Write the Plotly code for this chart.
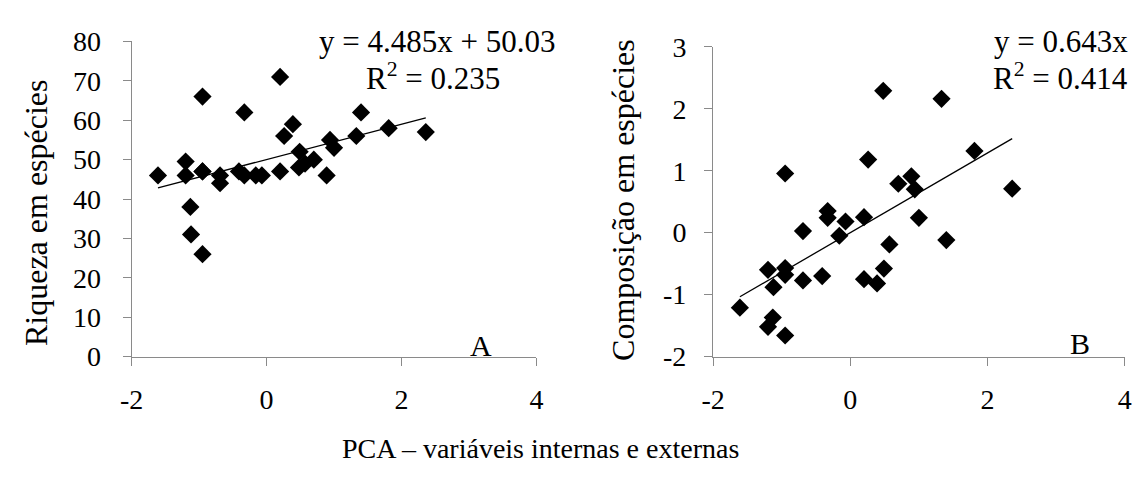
import plotly.graph_objects as go

# PCA scores (shared x for both panels)
pca = [-1.61, -1.20, -1.20, -1.13, -1.12, -0.95, -0.95, -0.95, -0.95, -0.69, -0.69,
       -0.41, -0.33, -0.33, -0.16, -0.07, 0.20, 0.20, 0.26, 0.39, 0.48, 0.49, 0.57,
       0.70, 0.89, 0.94, 1.00, 1.33, 1.40, 1.81, 2.36]

# Panel A: species richness
riqueza = [46, 49.5, 46, 38, 31, 66, 47, 47, 26, 46, 44,
           47, 62, 46, 46, 46, 71, 47, 56, 59, 48, 52, 49,
           50, 46, 55, 53, 56, 62, 58, 57]

# Panel B: species composition
composicao = [-1.21, -0.60, -1.52, -1.37, -0.88, 0.955, -0.57, -0.68, -1.66, 0.025, -0.77,
              -0.70, 0.35, 0.24, -0.05, 0.18, 0.25, -0.75, 1.18, -0.82, 2.29, -0.58, -0.19,
              0.79, 0.91, 0.70, 0.24, 2.16, -0.12, 1.32, 0.71]

slope_a, intercept_a = 4.485, 50.03
slope_b = 0.643

x_ticks = [-2, 0, 2, 4]
ya_ticks = [0, 10, 20, 30, 40, 50, 60, 70, 80]
yb_ticks = [-2, -1, 0, 1, 2, 3]

W, H = 1141, 483
FONT = "Liberation Serif"

def px(xp):
    return xp / W

def py(yp):
    return 1 - yp / H

fig = go.Figure()

marker = dict(symbol="diamond", size=14, color="black")
xl = [min(pca), max(pca)]

fig.add_trace(go.Scatter(x=pca, y=riqueza, mode="markers", marker=marker,
                         xaxis="x", yaxis="y", hoverinfo="skip"))
fig.add_trace(go.Scatter(x=xl, y=[slope_a * v + intercept_a for v in xl], mode="lines",
                         line=dict(color="black", width=1.3), xaxis="x", yaxis="y",
                         hoverinfo="skip"))
fig.add_trace(go.Scatter(x=pca, y=composicao, mode="markers", marker=marker,
                         xaxis="x2", yaxis="y2", hoverinfo="skip"))
fig.add_trace(go.Scatter(x=xl, y=[slope_b * v for v in xl], mode="lines",
                         line=dict(color="black", width=1.3), xaxis="x2", yaxis="y2",
                         hoverinfo="skip"))

axc = dict(showline=True, linecolor="#8a8a8a", linewidth=1.3, ticks="outside", ticklen=8,
           tickcolor="#8a8a8a", tickwidth=1.3, showgrid=False, zeroline=False,
           tickfont=dict(family=FONT, size=28, color="black"), fixedrange=True)

def tt(vals):
    return [str(v) for v in vals]

fig.update_layout(
    width=W, height=H,
    margin=dict(l=0, r=0, t=0, b=0),
    paper_bgcolor="white", plot_bgcolor="white",
    font=dict(family=FONT, color="black", size=28),
    showlegend=False,
    xaxis=dict(axc, domain=[px(121.7), px(533.3)], range=[-2, 4], tickvals=x_ticks,
               ticktext=tt(x_ticks), anchor="y", ticklabelstandoff=10),
    yaxis=dict(axc, domain=[py(365), py(28.3)], range=[0, 80], tickvals=ya_ticks,
               ticktext=tt(ya_ticks), anchor="x", ticklabelstandoff=16),
    xaxis2=dict(axc, domain=[px(713), px(1131.5)], range=[-2, 4], tickvals=x_ticks,
                ticktext=tt(x_ticks), anchor="y2", ticklabelstandoff=10),
    yaxis2=dict(axc, domain=[py(365), py(34)], range=[-2, 3], tickvals=yb_ticks,
                ticktext=tt(yb_ticks), anchor="x2", ticklabelstandoff=12),
)

ann = [
    dict(text="Riqueza em espécies", x=px(25), y=py(211), textangle=-90, size=32),
    dict(text="Composição em espécies", x=px(622), y=py(198), textangle=-90, size=32),
    dict(text="PCA – variáveis internas e externas", x=px(537), y=py(463), size=28),
    dict(text="y = 4.485x + 50.03", x=px(432), y=py(28), size=31),
    dict(text="R<sup>2</sup> = 0.235", x=px(428), y=py(66), size=31),
    dict(text="y = 0.643x", x=px(1137), y=py(28), size=31, xanchor="right"),
    dict(text="R<sup>2</sup> = 0.414", x=px(1137), y=py(66), size=31, xanchor="right"),
    dict(text="A", x=px(477), y=py(353), size=30),
    dict(text="B", x=px(1086), y=py(351), size=30),
]
for a in ann:
    fig.add_annotation(text=a["text"], x=a["x"], y=a["y"], xref="paper", yref="paper",
                       showarrow=False, textangle=a.get("textangle", 0),
                       xanchor=a.get("xanchor", "center"), yanchor="middle",
                       font=dict(family=FONT, size=a["size"], color="black"))

fig.write_html("out.html")
